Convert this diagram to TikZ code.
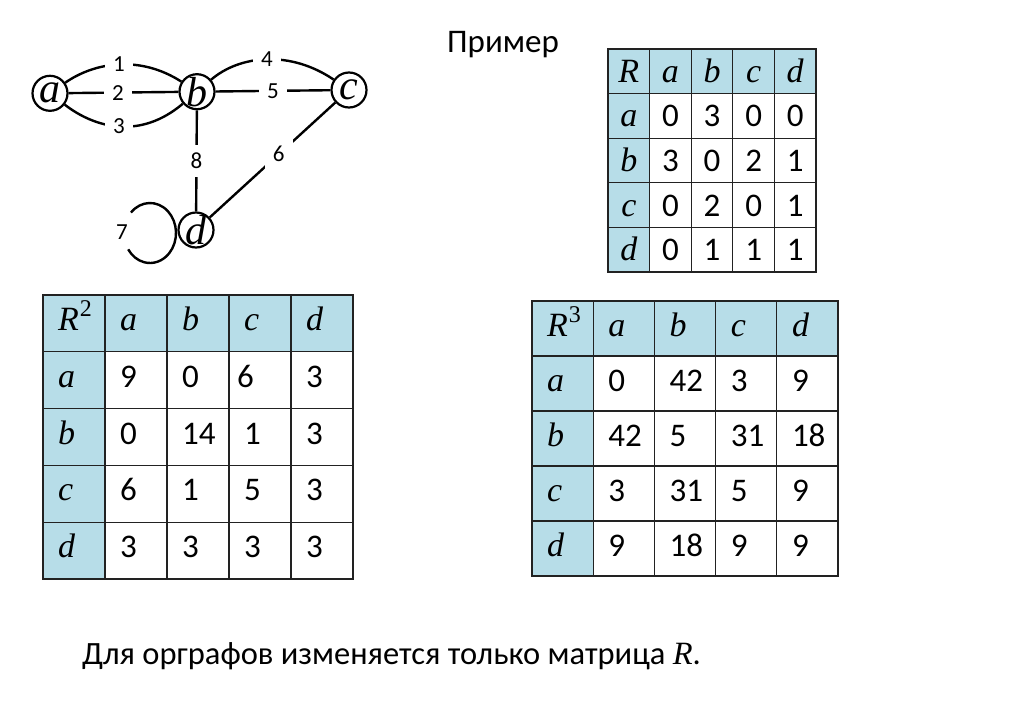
\documentclass[tikz,border=0pt]{standalone}
\usepackage{fontspec}
\setmainfont{Carlito}
\newfontfamily\sfam{Liberation Serif}
\newcommand\vv[1]{{\sfam\itshape #1}}
\newcommand\nv[1]{\makebox[0.4em]{\sfam\itshape #1}}
\newcommand\lv[1]{{\sfam\itshape\fontsize{34}{34}\selectfont #1}}
\newcommand\rv{{\sfam\itshape\fontsize{34}{34}\selectfont R}}
\newcommand\supr[1]{\hspace{1pt}\raisebox{0.42em}{\sfam\fontsize{24}{24}\selectfont #1}}
\definecolor{hdr}{HTML}{B7DDE8}
\definecolor{gridc}{HTML}{222222}
\begin{document}
\begin{tikzpicture}[x=1pt,y=-1pt,
  vtx/.style={circle,draw,line width=2.2pt,minimum size=35pt,inner sep=0pt,font=\fontsize{42}{42}\selectfont},
  edge/.style={line width=2.4pt},
  elab/.style={fill=white,inner sep=8pt,font=\fontsize{23}{23}\selectfont},
  gridline/.style={draw=gridc,line width=1.3pt},
  celltxt/.style={inner sep=0pt,font=\fontsize{33}{33}\selectfont},
  bigtxt/.style={inner sep=0pt,font=\fontsize{33}{33}\selectfont},
]
\useasboundingbox[fill=white] (0,0) rectangle (1024,723);

% ---------- graph ----------
\node[vtx] (a) at (50,93.3) {\nv{a}};
\node[vtx] (b) at (197,91.7) {\nv{b}};
\node[vtx] (c) at (349,90) {\nv{c}};
\node[vtx] (d) at (196,230) {\nv{d}};

\draw[edge] (a) .. controls (95,62) and (140,55) .. node[elab,pos=0.5] (l1) {1} (b);
\draw[edge] (a) -- node[elab,pos=0.45] (l2) {2} (b);
\draw[edge] (a) .. controls (95,128) and (140,140) .. node[elab,pos=0.5] (l3) {3} (b);
\draw[edge] (b) .. controls (240,55) and (290,50) .. node[elab,pos=0.5] (l4) {4} (c);
\draw[edge] (b) -- node[elab,pos=0.5] (l5) {5} (c);
\draw[edge] (c) -- node[elab,pos=0.45] (l6) {6} (d);
\draw[edge] (b) -- node[elab,pos=0.5] (l8) {8} (d);
\coordinate (lc) at (150,233);
\draw[edge] (lc) ++(-137:26 and 30) arc[start angle=-137,end angle=147,x radius=26,y radius=30];
\node[font=\fontsize{23}{23}\selectfont,inner sep=0pt] (l7) at (122,232) {7};

% ---------- title ----------
\node[bigtxt,anchor=base west] (title) at (447,52) {Пример};

% ---------- table R ----------
\def\xo{608}\def\yo{49}\def\cw{41.6}\def\ch{44.6}
\foreach \row [count=\i from 0] in {{\rv,\lv{a},\lv{b},\lv{c},\lv{d}},{\lv{a},0,3,0,0},{\lv{b},3,0,2,1},{\lv{c},0,2,0,1},{\lv{d},0,1,1,1}} {
  \foreach \cell [count=\j from 0] in \row {
    \ifnum\i=0 \def\cf{hdr}\else\ifnum\j=0 \def\cf{hdr}\else\def\cf{white}\fi\fi
    \pgfmathsetmacro\cx{\xo+\j*\cw}
    \pgfmathsetmacro\cy{\yo+\i*\ch}
    \draw[gridline,fill=\cf] (\cx,\cy) rectangle ++(\cw,\ch);
    \node[celltxt,anchor=base] (r-\i-\j) at ({\cx+\cw/2},{\cy+\ch/2+11}) {\cell};
  }
}

% ---------- table R^2 ----------
\def\xo{43}\def\yo{295}\def\cw{62}\def\ch{56.8}
\foreach \row [count=\i from 0] in {{\rv\supr{2},\lv{a},\lv{b},\lv{c},\lv{d}},{\lv{a},9,0,\hspace*{-7pt}6,3},{\lv{b},0,14,1,3},{\lv{c},6,1,5,3},{\lv{d},3,3,3,3}} {
  \foreach \cell [count=\j from 0] in \row {
    \ifnum\i=0 \def\cf{hdr}\else\ifnum\j=0 \def\cf{hdr}\else\def\cf{white}\fi\fi
    \pgfmathsetmacro\cx{\xo+\j*\cw}
    \pgfmathsetmacro\cy{\yo+\i*\ch}
    \draw[gridline,fill=\cf] (\cx,\cy) rectangle ++(\cw,\ch);
    \node[celltxt,anchor=base west] (s-\i-\j) at ({\cx+15},{\cy+\ch/2+7}) {\cell};
  }
}

% ---------- table R^3 ----------
\def\xo{532}\def\yo{301}\def\cw{61.2}\def\ch{55}
\foreach \row [count=\i from 0] in {{\rv\supr{3},\lv{a},\lv{b},\lv{c},\lv{d}},{\lv{a},0,42,3,9},{\lv{b},42,5,31,18},{\lv{c},3,31,5,9},{\lv{d},9,18,9,9}} {
  \foreach \cell [count=\j from 0] in \row {
    \ifnum\i=0 \def\cf{hdr}\else\ifnum\j=0 \def\cf{hdr}\else\def\cf{white}\fi\fi
    \pgfmathsetmacro\cx{\xo+\j*\cw}
    \pgfmathsetmacro\cy{\yo+\i*\ch}
    \draw[gridline,fill=\cf] (\cx,\cy) rectangle ++(\cw,\ch);
    \node[celltxt,anchor=base west] (t-\i-\j) at ({\cx+15},{\cy+\ch/2+8}) {\cell};
  }
}

% ---------- bottom text ----------
\node[inner sep=0pt,font=\fontsize{32.5}{32.5}\selectfont,anchor=base west] (note) at (82,664) {Для орграфов изменяется только матрица \vv{R}.};
\end{tikzpicture}
\end{document}
